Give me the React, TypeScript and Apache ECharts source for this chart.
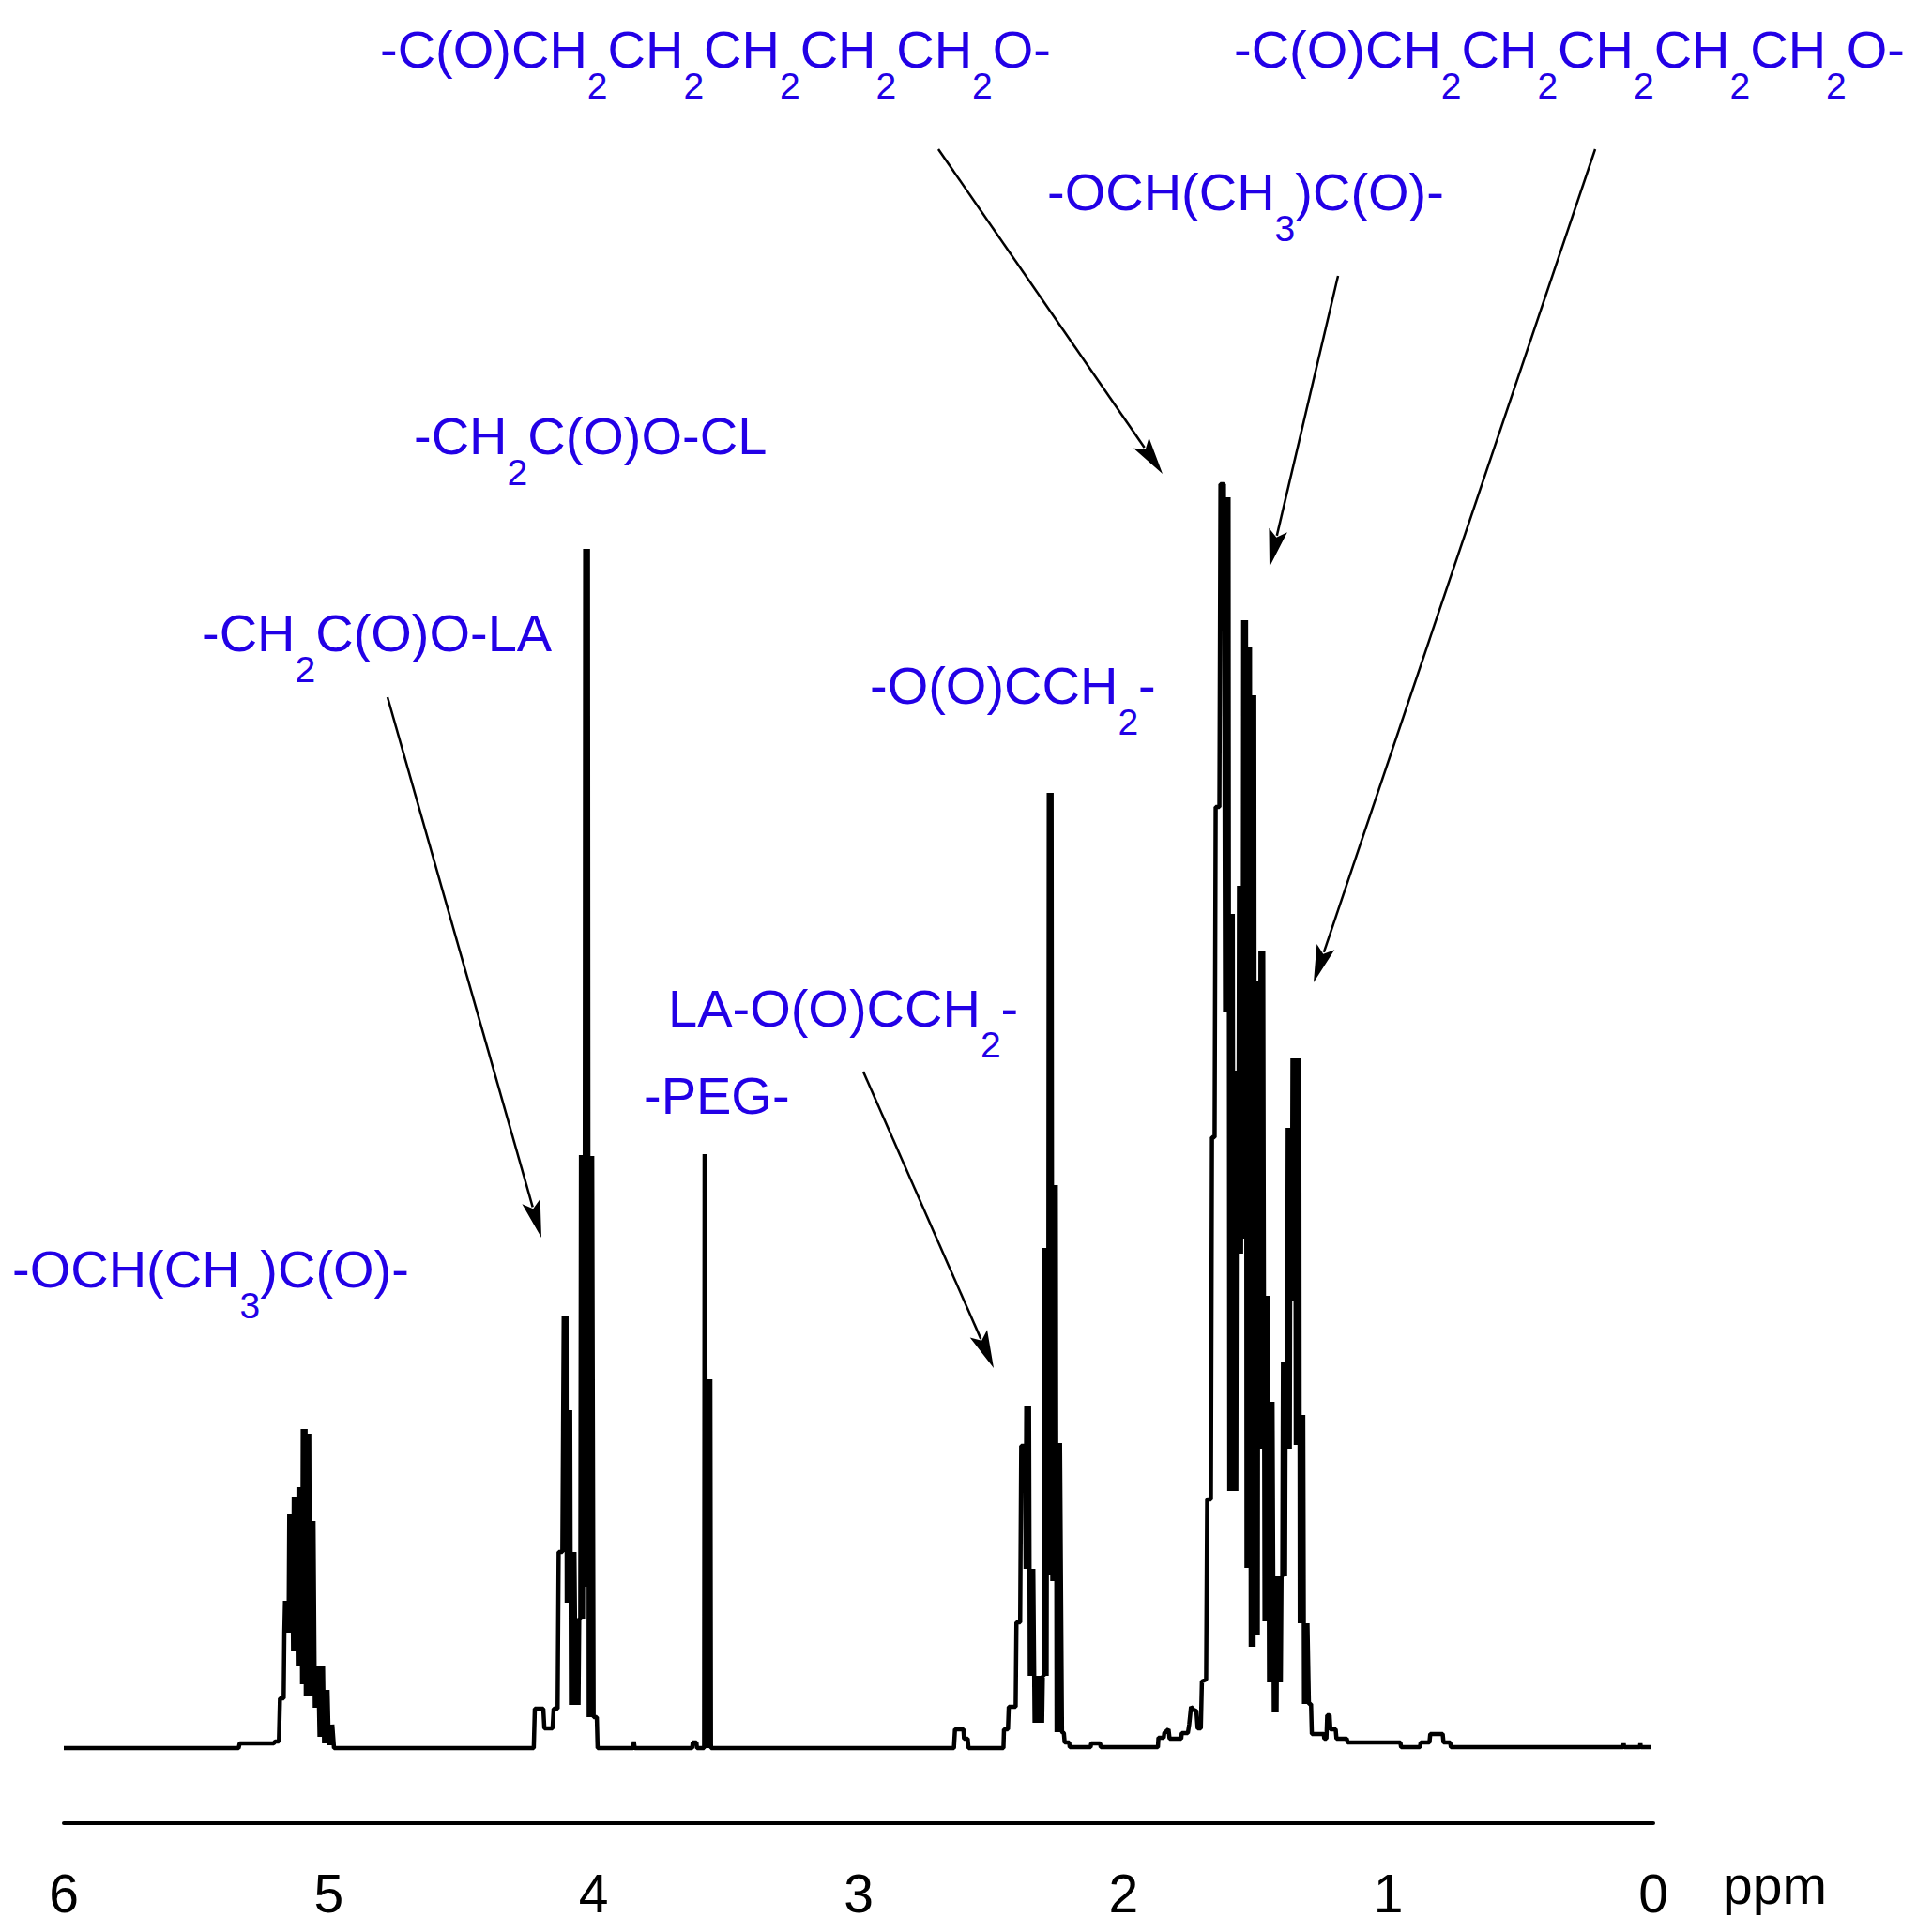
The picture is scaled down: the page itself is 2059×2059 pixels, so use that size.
import React, { useEffect, useRef } from "react";
import * as echarts from "echarts";

// ---- axis ----
const ppmMin = 0;
const ppmMax = 6;
const axisUnit = "ppm";

// ---- spectrum ----
// [ppm, intensity]  or  [ppm, low, high] for an unresolved (densely oscillating) column
const baselineLeft: number[][] = [[6.0, 0], [5.34, 0]];
const lactideMethine: number[][] = [
  [5.336, 5], [5.207, 5], [5.203, 7], [5.188, 7], [5.184, 53], [5.17, 53],
  [5.161, 123, 157], [5.145, 123, 250], [5.128, 103, 268], [5.11, 87, 278],
  [5.094, 68, 340], [5.08, 55, 335], [5.064, 55, 242], [5.046, 43, 87],
  [5.028, 12, 87], [5.011, 5, 62], [4.993, 3, 25],
  [4.98, 0],
];
const oxymethylene: number[][] = [
  [4.226, 0], [4.222, 42], [4.19, 42], [4.186, 21], [4.155, 21], [4.151, 42],
  [4.136, 42], [4.132, 209], [4.118, 209],
  [4.109, 209, 460], [4.095, 155, 360], [4.079, 46, 209], [4.061, 46, 138],
  [4.044, 138, 632], [4.028, 172, 1278], [4.012, 33, 631],
  [4.0, 33], [3.988, 33], [3.985, 0],
];
const smallSignals: number[][] = [
  [3.851, 0], [3.848, 7], [3.845, 0],
  [3.628, 0], [3.626, 6], [3.612, 6], [3.61, 0],
];
const pegSignal: number[][] = [
  [3.583, 0], [3.581, 633], [3.578, 393], [3.566, 0, 393], [3.557, 0],
];
const carbonylMethylene: number[][] = [
  [2.64, 0], [2.636, 20], [2.604, 20], [2.602, 10], [2.588, 10], [2.585, 0],
  [2.453, 0], [2.451, 20], [2.436, 20], [2.433, 44], [2.407, 44], [2.404, 134],
  [2.39, 134], [2.386, 322], [2.372, 322],
  [2.363, 191, 365], [2.347, 77, 191], [2.329, 27, 77], [2.311, 27, 77],
  [2.294, 77, 533], [2.278, 184, 1018], [2.262, 178, 600], [2.246, 17, 325],
  [2.232, 17], [2.225, 16], [2.222, 6], [2.205, 6], [2.203, 1], [2.124, 1],
  [2.122, 5], [2.088, 5], [2.086, 1],
];
const methyleneRegion: number[][] = [
  [1.87, 1], [1.868, 11], [1.848, 11], [1.846, 16], [1.83, 20], [1.826, 10],
  [1.782, 10], [1.78, 16], [1.757, 16], [1.752, 25], [1.745, 44], [1.732, 40],
  [1.725, 40], [1.72, 21], [1.708, 21], [1.704, 71], [1.688, 73], [1.684, 265],
  [1.67, 265], [1.666, 651], [1.656, 651], [1.652, 1003], [1.638, 1003],
  [1.634, 1347], [1.621, 1347],
  [1.61, 785, 1333], [1.594, 274, 889], [1.578, 274, 722], [1.56, 527, 919],
  [1.544, 543, 1202], [1.529, 192, 1173], [1.513, 108, 1122], [1.497, 120, 817],
  [1.479, 319, 849], [1.461, 135, 482], [1.444, 70, 369], [1.426, 38, 183],
  [1.41, 70, 183], [1.394, 183, 412], [1.376, 319, 661], [1.358, 477, 735],
  [1.343, 323, 735], [1.328, 133, 355], [1.312, 47, 133],
  [1.3, 47], [1.292, 47], [1.289, 15], [1.244, 15], [1.242, 10], [1.234, 10],
  [1.231, 35], [1.222, 35], [1.219, 20], [1.199, 20], [1.196, 10], [1.157, 10],
  [1.154, 6],
];
const baselineRight: number[][] = [
  [0.955, 6], [0.952, 1], [0.881, 1], [0.878, 6], [0.845, 6], [0.842, 15],
  [0.795, 15], [0.792, 6], [0.767, 6], [0.764, 1], [0.114, 1], [0.112, 5],
  [0.11, 1], [0.051, 1], [0.049, 5], [0.047, 1], [0.007, 1],
];

// ---- annotations ("_n" marks a subscript) ----
const annotationTexts = [
  "-C(O)CH_2CH_2CH_2CH_2CH_2O-",
  "-C(O)CH_2CH_2CH_2CH_2CH_2O-",
  "-OCH(CH_3)C(O)-",
  "-CH_2C(O)O-CL",
  "-CH_2C(O)O-LA",
  "-O(O)CCH_2-",
  "LA-O(O)CCH_2-",
  "-PEG-",
  "-OCH(CH_3)C(O)-",
];
// layout: [left x, baseline y] in page pixels
const annotationLayout = [
  [405, 72], [1315, 72], [1116, 224], [441, 484], [215, 694],
  [927, 750], [712, 1094], [686, 1187], [13, 1372],
];
// arrows: [x1, y1, x2 (tip), y2 (tip)]
const arrowLayout = [
  [1000, 159, 1239, 505],
  [1426, 294, 1353, 604],
  [1700, 159, 1400, 1047],
  [413, 743, 577, 1319],
  [920, 1142, 1059, 1458],
];

const LABEL_COLOR = "#2200e6";
const FONT = "Liberation Sans";
const MAIN_SIZE = 56;
const SUB_SIZE = 39;
const SUB_DROP = 33;
const CENTRAL = 0.3465;
const ZIG = [0.0065, 0.0039, 0.0013, -0.0013, -0.0039, -0.0065];

function expand(cols: number[][]) {
  const out: number[][] = [];
  for (const c of cols) {
    if (c.length === 2) out.push([c[0], c[1]]);
    else {
      const [p, lo, hi] = c;
      ZIG.forEach((d, k) => out.push([p + d, k % 2 === 0 ? lo : hi]));
    }
  }
  return out;
}

function buildLabels() {
  const canvas = document.createElement("canvas");
  const ctx = canvas.getContext("2d")!;
  const els: any[] = [];
  annotationTexts.forEach((txt, i) => {
    const [x0, base] = annotationLayout[i];
    const parts = txt.split(/_(\d)/);
    let x = x0;
    parts.forEach((part, k) => {
      if (!part) return;
      const sub = k % 2 === 1;
      const size = sub ? SUB_SIZE : MAIN_SIZE;
      ctx.font = `${size}px "${FONT}"`;
      const w = ctx.measureText(part).width;
      const b = sub ? base + SUB_DROP : base;
      els.push({
        type: "text",
        x,
        y: b - CENTRAL * size,
        z: 10,
        style: {
          text: part,
          fill: LABEL_COLOR,
          fontSize: size,
          fontFamily: FONT,
          align: "left",
          verticalAlign: "middle",
        },
      });
      x += w;
    });
  });
  return els;
}

function buildArrows() {
  const els: any[] = [];
  const L = 40;
  const W = 10;
  arrowLayout.forEach(([x1, y1, x2, y2]) => {
    const dx = x2 - x1;
    const dy = y2 - y1;
    const len = Math.hypot(dx, dy);
    const ux = dx / len;
    const uy = dy / len;
    const bx = x2 - ux * L;
    const by = y2 - uy * L;
    els.push({
      type: "line",
      z: 10,
      shape: { x1, y1, x2: bx + ux * 6, y2: by + uy * 6 },
      style: { stroke: "#000", lineWidth: 2.5 },
    });
    els.push({
      type: "polygon",
      z: 10,
      shape: {
        points: [
          [x2, y2],
          [bx - uy * W, by + ux * W],
          [bx + ux * 8, by + uy * 8],
          [bx + uy * W, by - ux * W],
        ],
      },
      style: { fill: "#000" },
    });
  });
  return els;
}

export default function App() {
  const ref = useRef<HTMLDivElement>(null);
  useEffect(() => {
    document.body.style.margin = "0";
    const chart = echarts.init(ref.current!, null, { renderer: "svg" });
    const data = expand([
      ...baselineLeft,
      ...lactideMethine,
      ...oxymethylene,
      ...smallSignals,
      ...pegSignal,
      ...carbonylMethylene,
      ...methyleneRegion,
      ...baselineRight,
    ]);
    chart.setOption({
      animation: false,
      backgroundColor: "#ffffff",
      grid: { left: 68, right: 297, top: 20, bottom: 116 },
      xAxis: {
        type: "value",
        inverse: true,
        min: ppmMin,
        max: ppmMax,
        interval: 1,
        axisLine: { show: true, onZero: false, lineStyle: { color: "#000", width: 4 } },
        axisTick: { show: false },
        splitLine: { show: false },
        axisLabel: {
          color: "#000",
          fontSize: 57,
          fontFamily: FONT,
          lineHeight: 57,
          margin: 46,
        },
      },
      yAxis: { type: "value", min: -80, max: 1843, show: false },
      series: [
        {
          type: "line",
          data,
          showSymbol: false,
          symbol: "none",
          lineStyle: { color: "#000", width: 4.5, join: "bevel" },
          silent: true,
        },
      ],
      graphic: [
        ...buildArrows(),
        ...buildLabels(),
        {
          type: "text",
          x: 1836,
          y: 2029 - CENTRAL * 57,
          style: {
            text: axisUnit,
            fill: "#000",
            fontSize: 57,
            fontFamily: FONT,
            align: "left",
            verticalAlign: "middle",
          },
        },
      ],
    });
    return () => chart.dispose();
  }, []);
  return <div ref={ref} style={{ width: 2059, height: 2059 }} />;
}
